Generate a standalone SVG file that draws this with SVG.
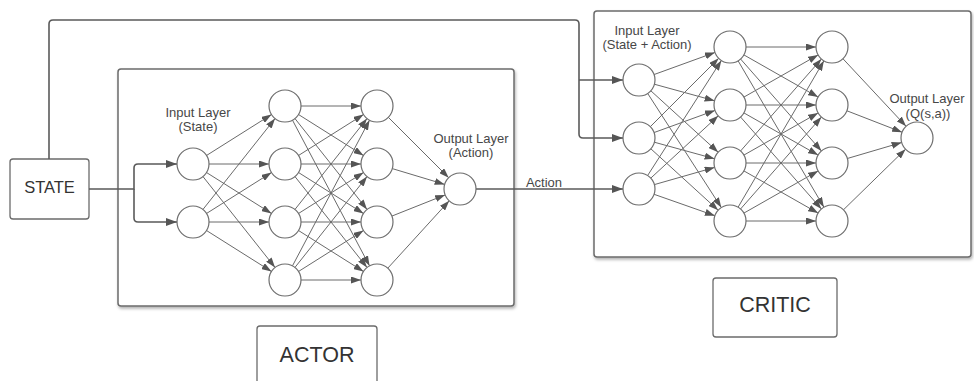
<svg xmlns="http://www.w3.org/2000/svg" width="974" height="381" viewBox="0 0 974 381">
  <defs>
    <style>
      .panel { fill: #ffffff; stroke: #6b6b6b; stroke-width: 1.5; filter: url(#shadow); }
      .box { fill: #ffffff; stroke: #6b6b6b; stroke-width: 1.3; }
      .neuron { fill: #ffffff; stroke: #6e6e6e; stroke-width: 1.2; }
      .edge { fill: none; stroke: #6a6a6a; stroke-width: 1; marker-end: url(#tip); }
      .wire { fill: none; stroke: #5a5a5a; stroke-width: 1.6; }
      .wire.arrow { marker-end: url(#tipBold); }
      .lbl { font-family: "Liberation Sans", Arial, sans-serif; font-size: 13px; fill: #474747; text-anchor: middle; }
      .title { font-family: "Liberation Sans", Arial, sans-serif; fill: #333333; text-anchor: middle; }
    </style>
    <filter id="shadow" x="-5%" y="-5%" width="110%" height="115%">
      <feDropShadow dx="1" dy="2" stdDeviation="1.5" flood-color="#000000" flood-opacity="0.3"/>
    </filter>
    <marker id="tip" markerWidth="10" markerHeight="7" refX="10" refY="3.5" orient="auto" markerUnits="userSpaceOnUse">
      <path d="M0,0 L10,3.5 L0,7 Z" fill="#555555"/>
    </marker>
    <marker id="tipBold" markerWidth="11" markerHeight="8" refX="11" refY="4" orient="auto" markerUnits="userSpaceOnUse">
      <path d="M0,0 L11,4 L0,8 Z" fill="#555555"/>
    </marker>
  </defs>

  <rect width="974" height="381" fill="#ffffff"/>

  <!-- network panels -->
  <g id="actor-panel">
    <rect class="panel" x="118" y="69" width="396" height="237" rx="3"/>
  </g>
  <g id="critic-panel">
    <rect class="panel" x="594" y="11" width="377" height="246" rx="3"/>
  </g>

  <!-- labelled boxes -->
  <g id="state">
    <rect class="box" x="10" y="159" width="79" height="60" rx="3"/>
    <text class="title" x="49.5" y="192.5" font-size="16.5">STATE</text>
  </g>
  <g id="actor-label">
    <rect class="box" x="257" y="326" width="120" height="70" rx="3"/>
    <text class="title" x="317" y="361.5" font-size="21.5">ACTOR</text>
  </g>
  <g id="critic-label">
    <rect class="box" x="713" y="278" width="124" height="59" rx="3"/>
    <text class="title" x="775" y="312" font-size="21.5">CRITIC</text>
  </g>

  <!-- connectors -->
  <g id="connectors">
    <!-- state into actor inputs -->
    <path class="wire arrow" d="M89 189 H134 V168 Q134 164 138 164 H177"/>
    <path class="wire arrow" d="M134 189 V218 Q134 222 138 222 H177"/>
    <!-- state routed over the actor into the critic -->
    <path class="wire arrow" d="M49 159 V24 Q49 20 53 20 H575 Q579 20 579 24 V134 Q579 138 583 138 H623"/>
    <path class="wire arrow" d="M579 80 H623"/>
    <!-- action from actor output into critic -->
    <path class="wire arrow" d="M476 189 H623"/>

    <!-- actor: input -> hidden 1 -->
    <line class="edge" x1="206.53" y1="155.47" x2="271.47" y2="114.53"/>
    <line class="edge" x1="209" y1="164" x2="269" y2="164"/>
    <line class="edge" x1="206.53" y1="172.53" x2="271.47" y2="213.47"/>
    <line class="edge" x1="202.94" y1="176.54" x2="275.06" y2="267.46"/>
    <line class="edge" x1="202.94" y1="209.46" x2="275.06" y2="118.54"/>
    <line class="edge" x1="206.53" y1="213.47" x2="271.47" y2="172.53"/>
    <line class="edge" x1="209" y1="222" x2="269" y2="222"/>
    <line class="edge" x1="206.53" y1="230.53" x2="271.47" y2="271.47"/>

    <!-- actor: hidden 1 -> hidden 2 -->
    <line class="edge" x1="301" y1="106" x2="361" y2="106"/>
    <line class="edge" x1="298.53" y1="114.53" x2="363.47" y2="155.47"/>
    <line class="edge" x1="294.94" y1="118.54" x2="367.06" y2="209.46"/>
    <line class="edge" x1="292.48" y1="120.15" x2="369.52" y2="265.85"/>
    <line class="edge" x1="298.53" y1="155.47" x2="363.47" y2="114.53"/>
    <line class="edge" x1="301" y1="164" x2="361" y2="164"/>
    <line class="edge" x1="298.53" y1="172.53" x2="363.47" y2="213.47"/>
    <line class="edge" x1="294.94" y1="176.54" x2="367.06" y2="267.46"/>
    <line class="edge" x1="294.94" y1="209.46" x2="367.06" y2="118.54"/>
    <line class="edge" x1="298.53" y1="213.47" x2="363.47" y2="172.53"/>
    <line class="edge" x1="301" y1="222" x2="361" y2="222"/>
    <line class="edge" x1="298.53" y1="230.53" x2="363.47" y2="271.47"/>
    <line class="edge" x1="292.48" y1="265.85" x2="369.52" y2="120.15"/>
    <line class="edge" x1="294.94" y1="267.46" x2="367.06" y2="176.54"/>
    <line class="edge" x1="298.53" y1="271.47" x2="363.47" y2="230.53"/>
    <line class="edge" x1="301" y1="280" x2="361" y2="280"/>

    <!-- actor: hidden 2 -> output -->
    <line class="edge" x1="388.31" y1="117.31" x2="448.69" y2="177.69"/>
    <line class="edge" x1="392.32" y1="168.61" x2="444.68" y2="184.39"/>
    <line class="edge" x1="391.87" y1="216.09" x2="445.13" y2="194.91"/>
    <line class="edge" x1="387.78" y1="268.18" x2="449.22" y2="200.82"/>

    <!-- critic: input -> hidden 1 -->
    <line class="edge" x1="654.04" y1="74.55" x2="714.96" y2="52.45"/>
    <line class="edge" x1="654.43" y1="84.24" x2="714.57" y2="100.76"/>
    <line class="edge" x1="650.82" y1="90.78" x2="718.18" y2="152.22"/>
    <line class="edge" x1="647.68" y1="93.44" x2="721.32" y2="207.56"/>
    <line class="edge" x1="650.31" y1="126.69" x2="718.69" y2="58.31"/>
    <line class="edge" x1="654.04" y1="132.55" x2="714.96" y2="110.45"/>
    <line class="edge" x1="654.43" y1="142.24" x2="714.57" y2="158.76"/>
    <line class="edge" x1="650.82" y1="148.78" x2="718.18" y2="210.22"/>
    <line class="edge" x1="647.63" y1="175.53" x2="721.37" y2="60.47"/>
    <line class="edge" x1="650.76" y1="178.15" x2="718.24" y2="115.85"/>
    <line class="edge" x1="654.38" y1="184.6" x2="714.62" y2="167.4"/>
    <line class="edge" x1="654.09" y1="194.31" x2="714.91" y2="215.69"/>

    <!-- critic: hidden 1 -> hidden 2 -->
    <line class="edge" x1="746" y1="47" x2="816" y2="47"/>
    <line class="edge" x1="743.91" y1="54.91" x2="818.09" y2="97.09"/>
    <line class="edge" x1="740.57" y1="59.02" x2="821.43" y2="150.98"/>
    <line class="edge" x1="738.09" y1="60.8" x2="823.91" y2="207.2"/>
    <line class="edge" x1="743.91" y1="97.09" x2="818.09" y2="54.91"/>
    <line class="edge" x1="746" y1="105" x2="816" y2="105"/>
    <line class="edge" x1="743.91" y1="112.91" x2="818.09" y2="155.09"/>
    <line class="edge" x1="740.57" y1="117.02" x2="821.43" y2="208.98"/>
    <line class="edge" x1="740.57" y1="150.98" x2="821.43" y2="59.02"/>
    <line class="edge" x1="743.91" y1="155.09" x2="818.09" y2="112.91"/>
    <line class="edge" x1="746" y1="163" x2="816" y2="163"/>
    <line class="edge" x1="743.91" y1="170.91" x2="818.09" y2="213.09"/>
    <line class="edge" x1="738.09" y1="207.2" x2="823.91" y2="60.8"/>
    <line class="edge" x1="740.57" y1="208.98" x2="821.43" y2="117.02"/>
    <line class="edge" x1="743.91" y1="213.09" x2="818.09" y2="170.91"/>
    <line class="edge" x1="746" y1="221" x2="816" y2="221"/>

    <!-- critic: hidden 2 -> output -->
    <line class="edge" x1="842.92" y1="58.69" x2="906.08" y2="126.31"/>
    <line class="edge" x1="846.92" y1="110.79" x2="902.08" y2="132.21"/>
    <line class="edge" x1="847.35" y1="158.49" x2="901.65" y2="142.51"/>
    <line class="edge" x1="843.45" y1="209.82" x2="905.55" y2="149.18"/>
  </g>

  <text class="lbl" x="544" y="187">Action</text>

  <!-- actor network -->
  <g id="actor-input">
    <text class="lbl" x="198" y="117">Input Layer</text>
    <text class="lbl" x="198" y="131">(State)</text>
    <circle class="neuron" cx="193" cy="164" r="16"/>
    <circle class="neuron" cx="193" cy="222" r="16"/>
  </g>
  <g id="actor-hidden-1">
    <circle class="neuron" cx="285" cy="106" r="16"/>
    <circle class="neuron" cx="285" cy="164" r="16"/>
    <circle class="neuron" cx="285" cy="222" r="16"/>
    <circle class="neuron" cx="285" cy="280" r="16"/>
  </g>
  <g id="actor-hidden-2">
    <circle class="neuron" cx="377" cy="106" r="16"/>
    <circle class="neuron" cx="377" cy="164" r="16"/>
    <circle class="neuron" cx="377" cy="222" r="16"/>
    <circle class="neuron" cx="377" cy="280" r="16"/>
  </g>
  <g id="actor-output">
    <text class="lbl" x="471" y="142.5">Output Layer</text>
    <text class="lbl" x="471" y="157">(Action)</text>
    <circle class="neuron" cx="460" cy="189" r="16"/>
  </g>

  <!-- critic network -->
  <g id="critic-input">
    <text class="lbl" x="647" y="34.5">Input Layer</text>
    <text class="lbl" x="647" y="48.5">(State + Action)</text>
    <circle class="neuron" cx="639" cy="80" r="16"/>
    <circle class="neuron" cx="639" cy="138" r="16"/>
    <circle class="neuron" cx="639" cy="189" r="16"/>
  </g>
  <g id="critic-hidden-1">
    <circle class="neuron" cx="730" cy="47" r="16"/>
    <circle class="neuron" cx="730" cy="105" r="16"/>
    <circle class="neuron" cx="730" cy="163" r="16"/>
    <circle class="neuron" cx="730" cy="221" r="16"/>
  </g>
  <g id="critic-hidden-2">
    <circle class="neuron" cx="832" cy="47" r="16"/>
    <circle class="neuron" cx="832" cy="105" r="16"/>
    <circle class="neuron" cx="832" cy="163" r="16"/>
    <circle class="neuron" cx="832" cy="221" r="16"/>
  </g>
  <g id="critic-output">
    <text class="lbl" x="927" y="102.5">Output Layer</text>
    <text class="lbl" x="928" y="117.5">(Q(s,a))</text>
    <circle class="neuron" cx="917" cy="138" r="16"/>
  </g>
</svg>
